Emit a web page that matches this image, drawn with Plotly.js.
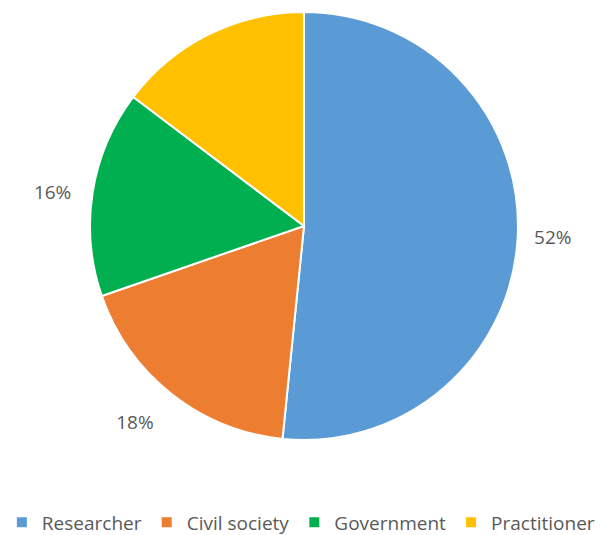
<!DOCTYPE html>
<html>
<head>
<meta charset="utf-8">
<script src="https://cdn.plot.ly/plotly-3.0.1.min.js"></script>
<style>html,body{margin:0;padding:0;background:#fff;}#chart{width:614px;height:535px;}</style>
</head>
<body>
<div id="chart"></div>
<script>
const categories = ["Researcher", "Civil society", "Government", "Practitioner"];
const values = [51.6, 18.1, 15.6, 14.7];
const NB = "\u00A0";
const labelsShown = [NB + NB + "52%", NB + "<br>18%" + NB, "16%" + NB + NB + NB, ""];
const colors = ["#5B9BD5", "#ED7D31", "#00B050", "#FFC000"];

const FONT = "Open Sans, Liberation Sans, sans-serif";

const trace = {
  type: "pie",
  labels: categories,
  values: values,
  text: labelsShown,
  textinfo: "text",
  textposition: "outside",
  sort: false,
  direction: "clockwise",
  rotation: 0,
  marker: {colors: colors, line: {color: "#ffffff", width: 2}},
  textfont: {family: FONT, size: 19, color: "#595959"},
  outsidetextfont: {family: FONT, size: 19, color: "#595959"},
  hoverinfo: "none",
  domain: {x: [0.1466, 0.8436], y: [0.1776, 0.9776]}
};

const layout = {
  width: 614,
  height: 535,
  margin: {l: 0, r: 0, t: 0, b: 0, autoexpand: false},
  paper_bgcolor: "#ffffff",
  showlegend: true,
  legend: {
    orientation: "h",
    x: 0.49, xanchor: "center",
    y: -0.012, yanchor: "bottom",
    font: {family: FONT, size: 19, color: "#595959"},
    itemwidth: 30
  }
};

Plotly.newPlot("chart", [trace], layout, {displayModeBar: false, staticPlot: true});
</script>
</body>
</html>
